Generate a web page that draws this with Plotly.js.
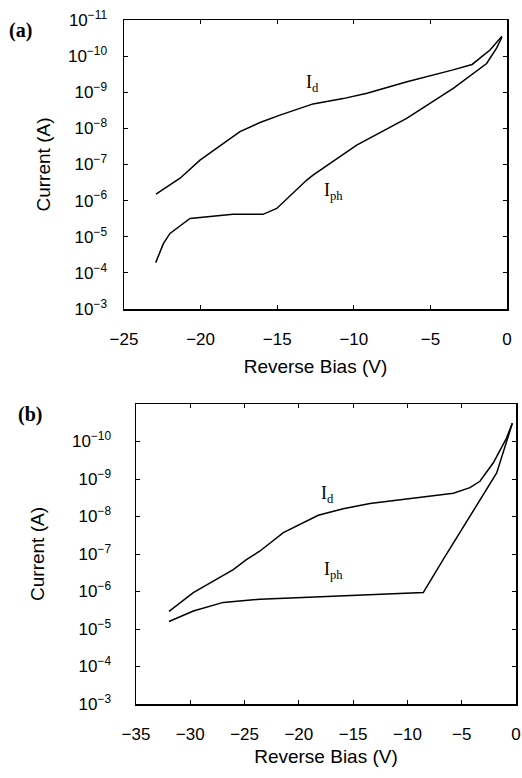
<!DOCTYPE html>
<html>
<head>
<meta charset="utf-8">
<script src="https://cdn.plot.ly/plotly-3.0.1.min.js"></script>
<style>html,body{margin:0;padding:0;background:#fff}#chart{width:522px;height:778px}</style>
</head>
<body>
<div id="chart"></div>
<script>
// Panel (a)
const biasA_Id = [-22.91, -21.34, -20.04, -17.43, -16.12, -14.82, -12.66, -10.70, -9.14, -6.53, -3.52, -2.28, -1.11, -0.33];
const currA_Id = [6.6e-7, 2.4e-7, 7.6e-8, 1.23e-8, 6.9e-9, 4.3e-9, 2.1e-9, 1.5e-9, 1.07e-9, 5.1e-10, 2.4e-10, 1.7e-10, 6.8e-11, 2.8e-11];
const biasA_Iph = [-22.93, -22.43, -22.0, -20.69, -17.89, -15.93, -15.03, -13.07, -12.64, -9.81, -6.55, -3.51, -1.33, -0.68, -0.33];
const currA_Iph = [5.2e-5, 1.55e-5, 8.1e-6, 3.1e-6, 2.4e-6, 2.4e-6, 1.65e-6, 2.7e-7, 1.95e-7, 2.9e-8, 5.3e-9, 7.8e-10, 1.6e-10, 6e-11, 3e-11];
// Panel (b)
const biasB_Id = [-31.96, -29.72, -26.04, -24.80, -23.58, -21.43, -18.21, -15.91, -13.45, -10.07, -5.77, -4.24, -3.32, -2.09, -0.86, -0.34];
const currB_Id = [3.4e-6, 1.07e-6, 2.6e-7, 1.4e-7, 8.3e-8, 2.7e-8, 9.3e-9, 6.2e-9, 4.5e-9, 3.4e-9, 2.4e-9, 1.7e-9, 1.15e-9, 3.7e-10, 8e-11, 3.2e-11];
const biasB_Iph = [-31.96, -29.72, -26.96, -23.58, -8.54, -6.70, -1.78, -1.01, -0.34];
const currB_Iph = [6.3e-6, 3.3e-6, 1.95e-6, 1.6e-6, 1.07e-6, 1.4e-7, 6.9e-10, 1.35e-10, 3.3e-11];

const yTickValsA = [1e-11, 1e-10, 1e-9, 1e-8, 1e-7, 1e-6, 1e-5, 1e-4, 1e-3];
const yTickTextA = ['10<sup>−11</sup>', '10<sup>−10</sup>', '10<sup>−9</sup>', '10<sup>−8</sup>', '10<sup>−7</sup>', '10<sup>−6</sup>', '10<sup>−5</sup>', '10<sup>−4</sup>', '10<sup>−3</sup>'];
const yTickValsB = [1e-10, 1e-9, 1e-8, 1e-7, 1e-6, 1e-5, 1e-4, 1e-3];
const yTickTextB = ['10<sup>−10</sup>', '10<sup>−9</sup>', '10<sup>−8</sup>', '10<sup>−7</sup>', '10<sup>−6</sup>', '10<sup>−5</sup>', '10<sup>−4</sup>', '10<sup>−3</sup>'];
const xTickValsA = [-25, -20, -15, -10, -5, 0];
const xTickTextA = ['−25', '−20', '−15', '−10', '−5', '0'];
const xTickValsB = [-35, -30, -25, -20, -15, -10, -5, 0];
const xTickTextB = ['−35', '−30', '−25', '−20', '−15', '−10', '−5', '0'];

const lineStyle = {color: '#000', width: 1.5};
const traces = [
  {x: biasA_Id, y: currA_Id, xaxis: 'x', yaxis: 'y', mode: 'lines', line: lineStyle, name: 'Id'},
  {x: biasA_Iph, y: currA_Iph, xaxis: 'x', yaxis: 'y', mode: 'lines', line: lineStyle, name: 'Iph'},
  {x: biasB_Id, y: currB_Id, xaxis: 'x2', yaxis: 'y2', mode: 'lines', line: lineStyle, name: 'Id'},
  {x: biasB_Iph, y: currB_Iph, xaxis: 'x2', yaxis: 'y2', mode: 'lines', line: lineStyle, name: 'Iph'}
];

const tickFont = {family: 'Liberation Sans, Arial, sans-serif', size: 17, color: '#000'};
const titleFont = {family: 'Liberation Sans, Arial, sans-serif', size: 19, color: '#000'};
const serif = 'Liberation Serif, Times New Roman, serif';
const axisCommon = {
  showline: true, linecolor: '#000', linewidth: 1.5, mirror: 'ticks',
  ticks: 'inside', ticklen: 4, tickcolor: '#000', tickwidth: 1,
  showgrid: false, zeroline: false, tickfont: tickFont, fixedrange: true
};

const layout = {
  width: 522, height: 778,
  margin: {l: 0, r: 0, t: 0, b: 0},
  paper_bgcolor: '#fff', plot_bgcolor: '#fff',
  showlegend: false,
  xaxis: Object.assign({}, axisCommon, {
    domain: [124/522, 507/522], anchor: 'y', range: [-25, 0],
    tickvals: xTickValsA, ticktext: xTickTextA, ticklabelstandoff: 14,
    title: {text: 'Reverse Bias (V)', font: titleFont, standoff: 12}
  }),
  yaxis: Object.assign({}, axisCommon, {
    domain: [1 - 309/778, 1 - 20/778], anchor: 'x', type: 'log', range: [-3, -11],
    tickvals: yTickValsA, ticktext: yTickTextA, ticklabelstandoff: 12,
    title: {text: 'Current (A)', font: titleFont, standoff: 12}
  }),
  xaxis2: Object.assign({}, axisCommon, {
    domain: [136/522, 516/522], anchor: 'y2', range: [-35, 0],
    tickvals: xTickValsB, ticktext: xTickTextB, ticklabelstandoff: 14,
    title: {text: 'Reverse Bias (V)', font: titleFont, standoff: 7}
  }),
  yaxis2: Object.assign({}, axisCommon, {
    domain: [1 - 704/778, 1 - 404/778], anchor: 'x2', type: 'log', range: [-3, -11],
    tickvals: yTickValsB, ticktext: yTickTextB, ticklabelstandoff: 20,
    title: {text: 'Current (A)', font: titleFont, standoff: 22}
  }),
  annotations: [
    {text: '<b>(a)</b>', xref: 'paper', yref: 'paper', x: 7/522, y: 1 - 17/778, xanchor: 'left', showarrow: false,
     font: {family: serif, size: 20, color: '#000'}},
    {text: '<b>(b)</b>', xref: 'paper', yref: 'paper', x: 16/522, y: 1 - 414/778, xanchor: 'left', showarrow: false,
     font: {family: serif, size: 20, color: '#000'}},
    {text: 'I<sub>d</sub>', xref: 'x', yref: 'y', x: -12.7, y: -9.25, showarrow: false,
     font: {family: serif, size: 18, color: '#000'}},
    {text: 'I<sub>ph</sub>', xref: 'x', yref: 'y', x: -11.3, y: -6.25, showarrow: false,
     font: {family: serif, size: 18, color: '#000'}},
    {text: 'I<sub>d</sub>', xref: 'x2', yref: 'y2', x: -17.4, y: -8.6, showarrow: false,
     font: {family: serif, size: 18, color: '#000'}},
    {text: 'I<sub>ph</sub>', xref: 'x2', yref: 'y2', x: -16.8, y: -6.55, showarrow: false,
     font: {family: serif, size: 18, color: '#000'}}
  ]
};

Plotly.newPlot('chart', traces, layout, {staticPlot: true, displayModeBar: false});
</script>
</body>
</html>
